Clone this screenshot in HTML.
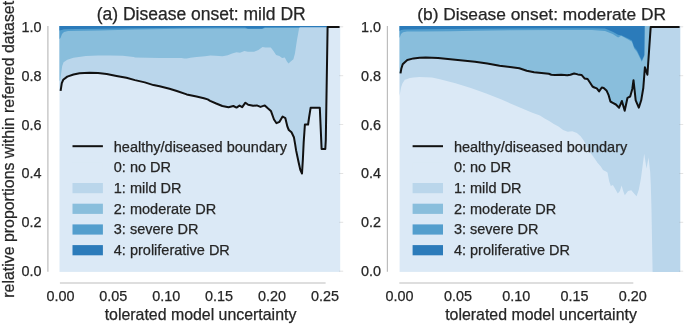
<!DOCTYPE html>
<html><head><meta charset="utf-8"><style>
html,body{margin:0;padding:0;background:#fff;}
svg{display:block;will-change:transform;}
text{font-family:"Liberation Sans",sans-serif;fill:#262626;stroke:#262626;stroke-width:0.25px;}
</style></head><body>
<svg width="685" height="325" viewBox="0 0 685 325">
<rect x="0" y="0" width="685" height="325" fill="#fff"/>

<rect x="59.5" y="26.0" width="280.7" height="245.9" fill="#dbe9f6"/>
<polygon points="59.5,26.0 59.5,90.8 60.6,90.8 61.8,83.2 63.2,79.8 67.3,76.6 73.5,74.5 79.6,73.3 89.5,72.7 98.0,73.1 106.7,74.0 116.5,75.9 126.4,77.8 135.0,80.1 144.8,82.4 153.5,85.1 159.6,86.3 169.5,88.8 176.8,91.0 186.7,94.4 196.5,96.6 203.9,98.2 207.7,99.4 210.1,100.8 216.2,103.5 222.3,106.0 228.5,107.2 233.4,106.0 236.5,107.6 239.5,105.6 242.2,107.2 245.4,102.7 248.2,104.8 253.1,105.8 256.8,105.4 260.5,106.9 264.8,105.4 267.8,108.2 270.9,110.9 274.0,119.5 276.5,123.2 279.5,121.8 282.6,116.5 285.3,118.1 287.5,126.9 288.8,130.0 291.5,132.3 293.9,137.2 295.2,144.6 296.1,150.4 297.5,157.0 298.6,162.3 300.3,169.9 302.0,173.5 302.9,159.0 303.7,142.0 304.4,132.0 304.9,124.5 308.1,124.5 309.0,118.0 310.6,107.8 319.8,107.8 321.6,148.9 325.3,148.9 325.8,140.0 327.6,26.9 327.6,26.0" fill="#bad6eb"/>
<polygon points="59.5,26.0 59.5,81.0 59.5,81.0 60.3,80.0 61.2,73.0 62.2,66.0 63.6,62.2 67.3,59.7 73.5,57.8 85.8,56.0 98.0,55.4 110.4,55.4 122.7,55.8 133.8,57.0 135.0,57.5 159.6,58.0 181.8,58.0 184.2,58.4 186.7,58.5 190.4,57.8 196.5,57.0 205.0,56.2 210.3,55.6 215.5,55.8 222.5,56.2 227.8,55.3 232.1,53.6 236.5,52.3 240.0,52.7 244.4,50.9 247.9,51.8 254.0,51.8 258.4,50.1 262.5,46.9 265.4,47.4 270.8,47.4 273.5,51.1 276.1,54.9 279.4,56.0 282.1,58.1 284.8,57.6 286.9,61.4 288.5,63.5 290.7,61.4 293.4,59.2 295.0,53.3 296.1,45.8 297.1,39.3 297.9,35.0 299.5,26.0 299.5,26.0" fill="#89bedc"/>
<polygon points="59.5,26.0 59.5,39.0 59.5,39.0 60.5,38.0 62.0,34.0 64.0,32.0 68.0,31.0 100.0,30.5 135.0,29.5 180.0,28.8 215.0,28.4 245.0,28.4 248.0,29.0 262.0,29.0 265.0,28.0 299.5,27.8 300.0,26.0 300.0,26.0" fill="#539ecd"/>
<polygon points="59.5,26.0 59.5,30.5 59.5,30.5 61.5,30.0 64.0,29.3 75.0,29.0 100.0,28.8 135.0,28.3 180.0,27.8 215.0,27.5 245.0,27.5 248.0,28.4 262.0,28.4 265.0,27.3 327.5,27.2 328.0,26.0 328.0,26.0" fill="#2b7bba"/>
<rect x="399.6" y="26.0" width="280.6" height="245.9" fill="#dbe9f6"/>
<polygon points="399.6,26.0 399.6,96.0 399.6,96.0 400.2,92.0 401.2,86.9 402.4,83.5 404.8,79.8 407.3,79.0 409.8,78.0 413.5,77.5 419.6,77.1 431.9,77.5 440.0,79.3 455.4,83.3 470.8,88.1 486.2,93.5 501.5,99.6 516.9,106.3 532.3,112.7 540.0,115.5 544.6,118.4 549.2,121.1 553.8,123.9 558.5,126.6 563.1,129.9 567.7,131.7 572.3,131.2 576.9,133.1 580.6,136.3 583.4,140.0 585.4,143.5 588.5,150.0 593.0,156.2 597.7,163.0 600.8,166.5 603.0,170.0 606.0,171.5 607.5,172.5 609.2,181.2 610.8,186.0 612.9,184.9 615.1,188.7 617.8,193.6 619.9,190.9 621.6,185.5 623.2,190.9 624.8,195.2 628.0,190.9 631.3,190.3 634.5,194.1 636.6,196.3 638.8,189.8 641.0,177.9 643.1,162.0 644.2,153.7 646.5,168.5 648.5,157.4 650.2,172.0 650.8,185.0 651.5,210.0 652.6,271.9 680.2,271.9 680.2,26.0" fill="#bad6eb"/>
<polygon points="399.6,26.0 399.6,73.4 400.5,73.4 401.3,68.8 402.7,64.3 404.8,62.2 407.3,60.0 413.5,58.4 419.6,57.7 425.8,57.4 438.1,58.0 450.4,59.2 462.7,60.5 475.0,61.8 487.3,63.6 499.6,65.8 511.9,67.3 519.3,68.3 526.7,70.8 534.1,72.2 543.9,73.2 548.8,73.7 551.3,74.7 555.0,74.9 561.2,74.7 567.3,75.3 570.4,74.7 574.1,73.5 577.8,74.4 581.5,74.9 584.5,78.4 587.6,79.0 590.1,82.7 592.5,86.5 594.4,87.5 596.8,88.4 599.1,91.4 601.8,87.5 603.7,88.0 606.7,90.8 608.5,94.8 610.4,101.5 612.8,102.8 615.9,104.5 619.1,107.7 621.9,101.0 624.7,110.8 627.5,97.8 630.2,96.5 632.3,89.0 633.5,80.2 635.7,100.3 638.8,107.7 641.2,100.3 643.3,88.0 644.9,67.3 647.4,74.7 650.7,26.9 650.7,26.0" fill="#89bedc"/>
<polygon points="399.6,26.0 399.6,38.0 399.6,38.0 401.0,34.0 403.0,32.2 407.0,31.6 420.0,31.4 450.0,31.2 475.0,30.8 510.0,30.3 555.0,30.0 592.0,30.0 605.0,30.9 612.7,34.0 618.1,37.5 621.2,35.8 628.1,39.4 631.9,41.7 634.2,48.5 637.0,52.0 641.8,61.8 644.3,56.0 644.7,26.0 644.7,26.0" fill="#539ecd"/>
<polygon points="399.6,26.0 399.6,31.0 399.6,31.0 401.0,30.0 404.0,29.4 420.0,29.2 475.0,28.8 555.0,28.3 592.0,28.2 605.0,28.6 612.7,31.7 618.1,34.8 621.2,35.2 628.1,38.6 631.9,40.5 634.2,47.1 636.9,50.3 641.8,60.5 644.3,55.0 644.6,26.0 644.6,26.0" fill="#2b7bba"/>
<polyline points="60.6,90.8 61.8,83.2 63.2,79.8 67.3,76.6 73.5,74.5 79.6,73.3 89.5,72.7 98.0,73.1 106.7,74.0 116.5,75.9 126.4,77.8 135.0,80.1 144.8,82.4 153.5,85.1 159.6,86.3 169.5,88.8 176.8,91.0 186.7,94.4 196.5,96.6 203.9,98.2 207.7,99.4 210.1,100.8 216.2,103.5 222.3,106.0 228.5,107.2 233.4,106.0 236.5,107.6 239.5,105.6 242.2,107.2 245.4,102.7 248.2,104.8 253.1,105.8 256.8,105.4 260.5,106.9 264.8,105.4 267.8,108.2 270.9,110.9 274.0,119.5 276.5,123.2 279.5,121.8 282.6,116.5 285.3,118.1 287.5,126.9 288.8,130.0 291.5,132.3 293.9,137.2 295.2,144.6 296.1,150.4 297.5,157.0 298.6,162.3 300.3,169.9 302.0,173.5 302.9,159.0 303.7,142.0 304.4,132.0 304.9,124.5 308.1,124.5 309.0,118.0 310.6,107.8 319.8,107.8 321.6,148.9 325.3,148.9 325.8,140.0 327.6,26.9 339.6,26.9" fill="none" stroke="#111" stroke-width="2.0" stroke-linejoin="round"/>
<polyline points="400.5,73.4 401.3,68.8 402.7,64.3 404.8,62.2 407.3,60.0 413.5,58.4 419.6,57.7 425.8,57.4 438.1,58.0 450.4,59.2 462.7,60.5 475.0,61.8 487.3,63.6 499.6,65.8 511.9,67.3 519.3,68.3 526.7,70.8 534.1,72.2 543.9,73.2 548.8,73.7 551.3,74.7 555.0,74.9 561.2,74.7 567.3,75.3 570.4,74.7 574.1,73.5 577.8,74.4 581.5,74.9 584.5,78.4 587.6,79.0 590.1,82.7 592.5,86.5 594.4,87.5 596.8,88.4 599.1,91.4 601.8,87.5 603.7,88.0 606.7,90.8 608.5,94.8 610.4,101.5 612.8,102.8 615.9,104.5 619.1,107.7 621.9,101.0 624.7,110.8 627.5,97.8 630.2,96.5 632.3,89.0 633.5,80.2 635.7,100.3 638.8,107.7 641.2,100.3 643.3,88.0 644.9,67.3 647.4,74.7 650.7,26.9 679.6,26.9" fill="none" stroke="#111" stroke-width="2.0" stroke-linejoin="round"/>
<line x1="47.9" y1="26.0" x2="47.9" y2="271.85" stroke="#bdbdbd" stroke-width="1.2"/>
<line x1="59.9" y1="283.0" x2="325.6" y2="283.0" stroke="#bdbdbd" stroke-width="1.2"/>
<line x1="387.4" y1="26.0" x2="387.4" y2="271.85" stroke="#bdbdbd" stroke-width="1.2"/>
<line x1="399.3" y1="283.0" x2="633.3" y2="283.0" stroke="#bdbdbd" stroke-width="1.2"/>
<text x="41.5" y="276.1" font-size="14.4" text-anchor="end">0.0</text>
<text x="41.5" y="227.3" font-size="14.4" text-anchor="end">0.2</text>
<text x="41.5" y="178.4" font-size="14.4" text-anchor="end">0.4</text>
<text x="41.5" y="129.5" font-size="14.4" text-anchor="end">0.6</text>
<text x="41.5" y="80.7" font-size="14.4" text-anchor="end">0.8</text>
<text x="41.5" y="31.8" font-size="14.4" text-anchor="end">1.0</text>
<text x="381" y="276.1" font-size="14.4" text-anchor="end">0.0</text>
<text x="381" y="227.3" font-size="14.4" text-anchor="end">0.2</text>
<text x="381" y="178.4" font-size="14.4" text-anchor="end">0.4</text>
<text x="381" y="129.5" font-size="14.4" text-anchor="end">0.6</text>
<text x="381" y="80.7" font-size="14.4" text-anchor="end">0.8</text>
<text x="381" y="31.8" font-size="14.4" text-anchor="end">1.0</text>
<text x="60.4" y="301.2" font-size="14.4" text-anchor="middle">0.00</text>
<text x="113.2" y="301.2" font-size="14.4" text-anchor="middle">0.05</text>
<text x="166.2" y="301.2" font-size="14.4" text-anchor="middle">0.10</text>
<text x="219.1" y="301.2" font-size="14.4" text-anchor="middle">0.15</text>
<text x="272.0" y="301.2" font-size="14.4" text-anchor="middle">0.20</text>
<text x="324.9" y="301.2" font-size="14.4" text-anchor="middle">0.25</text>
<text x="399.6" y="301.2" font-size="14.4" text-anchor="middle">0.00</text>
<text x="457.9" y="301.2" font-size="14.4" text-anchor="middle">0.05</text>
<text x="516.2" y="301.2" font-size="14.4" text-anchor="middle">0.10</text>
<text x="574.4" y="301.2" font-size="14.4" text-anchor="middle">0.15</text>
<text x="632.7" y="301.2" font-size="14.4" text-anchor="middle">0.20</text>
<line x1="339.2" y1="271.2" x2="343.2" y2="271.2" stroke="#999" stroke-width="0.8" opacity="0.35"/>
<line x1="339.2" y1="222.3" x2="343.2" y2="222.3" stroke="#999" stroke-width="0.8" opacity="0.35"/>
<line x1="339.2" y1="173.5" x2="343.2" y2="173.5" stroke="#999" stroke-width="0.8" opacity="0.35"/>
<line x1="339.2" y1="124.6" x2="343.2" y2="124.6" stroke="#999" stroke-width="0.8" opacity="0.35"/>
<line x1="339.2" y1="75.7" x2="343.2" y2="75.7" stroke="#999" stroke-width="0.8" opacity="0.35"/>
<line x1="339.2" y1="26.8" x2="343.2" y2="26.8" stroke="#999" stroke-width="0.8" opacity="0.35"/>
<line x1="679.2" y1="271.2" x2="683.2" y2="271.2" stroke="#999" stroke-width="0.8" opacity="0.35"/>
<line x1="679.2" y1="222.3" x2="683.2" y2="222.3" stroke="#999" stroke-width="0.8" opacity="0.35"/>
<line x1="679.2" y1="173.5" x2="683.2" y2="173.5" stroke="#999" stroke-width="0.8" opacity="0.35"/>
<line x1="679.2" y1="124.6" x2="683.2" y2="124.6" stroke="#999" stroke-width="0.8" opacity="0.35"/>
<line x1="679.2" y1="75.7" x2="683.2" y2="75.7" stroke="#999" stroke-width="0.8" opacity="0.35"/>
<line x1="679.2" y1="26.8" x2="683.2" y2="26.8" stroke="#999" stroke-width="0.8" opacity="0.35"/>
<text x="201.2" y="19.5" font-size="17.5" text-anchor="middle">(a) Disease onset: mild DR</text>
<text x="541.6" y="19.5" font-size="17.35" text-anchor="middle">(b) Disease onset: moderate DR</text>
<text x="200.5" y="320" font-size="15.9" text-anchor="middle">tolerated model uncertainty</text>
<text x="541" y="320" font-size="15.9" text-anchor="middle">tolerated model uncertainty</text>
<text transform="translate(14.0,149.3) rotate(-90)" font-size="15.9" text-anchor="middle">relative proportions within referred dataset</text>
<line x1="72.5" y1="146.2" x2="102.9" y2="146.2" stroke="#111" stroke-width="2.0"/>
<text x="113.8" y="151.5" font-size="14.5">healthy/diseased boundary</text>
<text x="113.8" y="172.2" font-size="14.5">0: no DR</text>
<rect x="72.5" y="162.3" width="30.4" height="10.2" fill="#dbe9f6"/>
<text x="113.8" y="192.9" font-size="14.5">1: mild DR</text>
<rect x="72.5" y="183.0" width="30.4" height="10.2" fill="#bad6eb"/>
<text x="113.8" y="213.6" font-size="14.5">2: moderate DR</text>
<rect x="72.5" y="203.7" width="30.4" height="10.2" fill="#89bedc"/>
<text x="113.8" y="234.3" font-size="14.5">3: severe DR</text>
<rect x="72.5" y="224.4" width="30.4" height="10.2" fill="#539ecd"/>
<text x="113.8" y="255.0" font-size="14.5">4: proliferative DR</text>
<rect x="72.5" y="245.1" width="30.4" height="10.2" fill="#2b7bba"/>
<line x1="412.6" y1="146.2" x2="443.0" y2="146.2" stroke="#111" stroke-width="2.0"/>
<text x="453.9" y="151.5" font-size="14.5">healthy/diseased boundary</text>
<text x="453.9" y="172.2" font-size="14.5">0: no DR</text>
<rect x="412.6" y="162.3" width="30.4" height="10.2" fill="#dbe9f6"/>
<text x="453.9" y="192.9" font-size="14.5">1: mild DR</text>
<rect x="412.6" y="183.0" width="30.4" height="10.2" fill="#bad6eb"/>
<text x="453.9" y="213.6" font-size="14.5">2: moderate DR</text>
<rect x="412.6" y="203.7" width="30.4" height="10.2" fill="#89bedc"/>
<text x="453.9" y="234.3" font-size="14.5">3: severe DR</text>
<rect x="412.6" y="224.4" width="30.4" height="10.2" fill="#539ecd"/>
<text x="453.9" y="255.0" font-size="14.5">4: proliferative DR</text>
<rect x="412.6" y="245.1" width="30.4" height="10.2" fill="#2b7bba"/>
</svg></body></html>
